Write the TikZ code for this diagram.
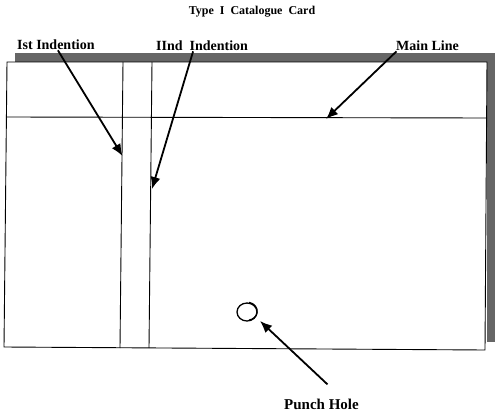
\documentclass[tikz,border=0pt]{standalone}
\usepackage{fontspec}
\setmainfont{Liberation Serif}
\usetikzlibrary{arrows.meta,shapes.geometric}
\begin{document}
\begin{tikzpicture}[x=1pt,y=-1pt,
  cardline/.style={line width=0.9pt,black},
  lbl/.style={font=\bfseries\fontsize{14}{16}\selectfont,inner sep=1pt},
  pointer/.style={line width=1.8pt,-{Latex[length=12pt,width=10pt]}},
  shadow/.style={fill=black!60,draw=none}]
\useasboundingbox (0,0) rectangle (504,415);
% shadow
\fill[shadow] (15,53) rectangle (495,62);
\fill[shadow] (487,53) rectangle (495,342);
% card
\fill[white] (7,62) -- (487,62) -- (485,350) -- (4,347) -- cycle;
\draw[cardline] (7,62) -- (487,62) -- (485,350) -- (4,347) -- cycle;
% main line
\draw[cardline] (7,117) -- (487,118);
% indentions
\draw[cardline] (123,62) -- (120,348);
\draw[cardline] (152,62) -- (149,348);
% punch hole
\node[draw,line width=1.3pt,ellipse,minimum width=20pt,minimum height=18pt,inner sep=0pt] (hole) at (247,312) {};
\draw[line width=1.2pt] ([xshift=2pt]hole.north) arc[start angle=80,end angle=-80,x radius=10pt,y radius=9pt];
% title and labels
\node[font=\bfseries\fontsize{12}{14}\selectfont] (title) at (252,12) {Type\ \ I\ \ Catalogue\ \ Card};
\node[lbl,anchor=base west] (l1) at (16,49) {Ist Indention};
\node[lbl,anchor=base west] (l2) at (155,50) {IInd\ \ Indention};
\node[lbl,anchor=base west] (l3) at (395,50) {Main Line};
\node[lbl,font=\bfseries\fontsize{15}{17}\selectfont,anchor=base west] (l4) at (283,409) {Punch Hole};
% arrow targets
\coordinate (t1) at (122.5,156);
\coordinate (t2) at (152,189);
\coordinate (t3) at (326,119);
\coordinate (t4) at (260,321);
\draw[pointer] ([xshift=2pt]l1.south) -- (t1);
\draw[pointer] ([xshift=-9pt]l2.south) -- (t2);
\draw[pointer] ([xshift=-31pt]l3.south) -- (t3);
\draw[pointer] ([xshift=6pt,yshift=13pt]l4.north) -- (t4);
\end{tikzpicture}
\end{document}
